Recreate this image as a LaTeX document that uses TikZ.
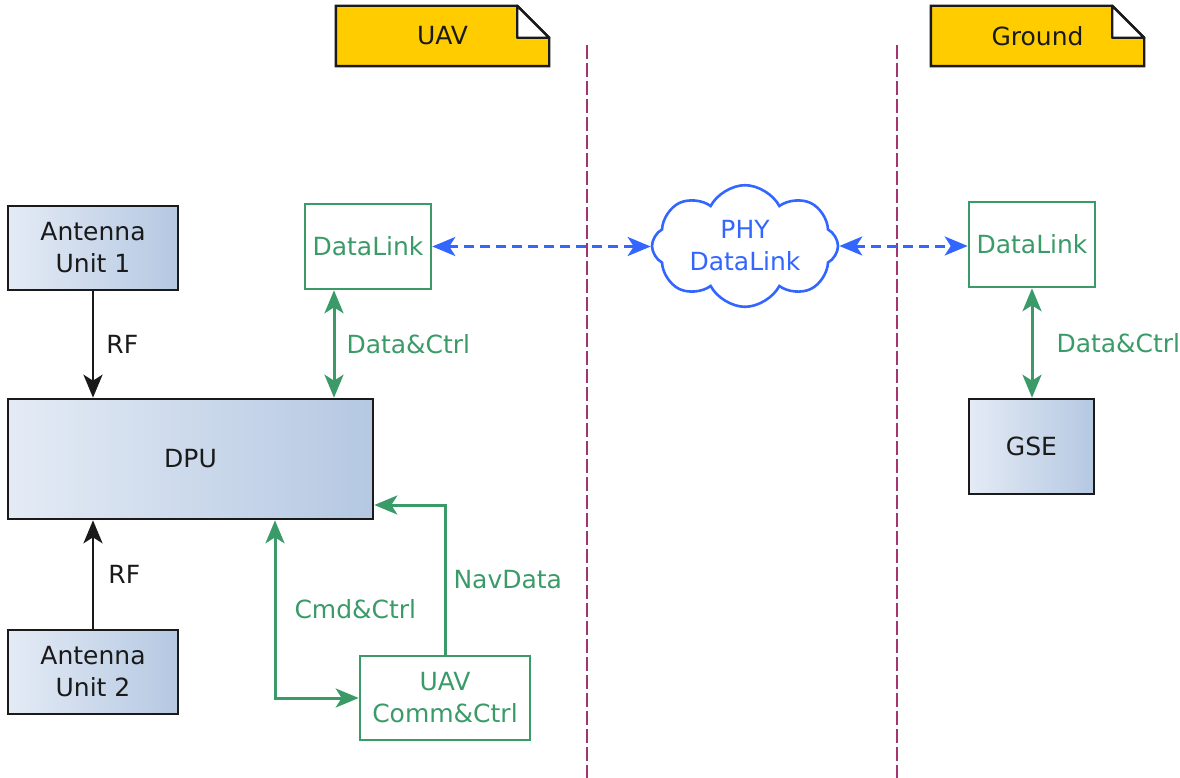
\documentclass[tikz,border=0pt]{standalone}
\usepackage{fontspec}
\setmainfont{DejaVu Sans}
\usetikzlibrary{arrows.meta,shapes.symbols,backgrounds,calc}

\definecolor{linkgreen}{HTML}{3A9B68}
\definecolor{phyblue}{HTML}{3366FF}
\definecolor{notefill}{HTML}{FFCC00}
\definecolor{lanecol}{HTML}{A3346F}
\definecolor{boxleft}{HTML}{E4EBF5}
\definecolor{boxright}{HTML}{B5C8E2}
\definecolor{inkdark}{HTML}{1A1A1A}

\tikzset{
  every node/.style={font=\fontsize{25}{32}\selectfont, align=center, inner sep=0pt},
  headend/.style={arrows={-Stealth[length=23pt,width=19pt,inset=6pt]}},
  headboth/.style={arrows={Stealth[length=23pt,width=19pt,inset=6pt]-Stealth[length=23pt,width=19pt,inset=6pt]}},
  hwbox/.style={draw=inkdark, line width=2.6pt, left color=boxleft, right color=boxright, text=inkdark},
  swbox/.style={draw=linkgreen, line width=2.6pt, fill=white, text=linkgreen},
  notetext/.style={minimum width=213pt, minimum height=60pt, text=inkdark},
  notebody/.style={draw=inkdark, line width=2.4pt, fill=notefill},
  lane/.style={draw=lanecol, line width=2.2pt, dash pattern=on 14pt off 4pt},
  hwflow/.style={draw=inkdark, line width=2.8pt, headend},
  ctlflow/.style={draw=linkgreen, line width=3pt, text=linkgreen},
  phyflow/.style={draw=phyblue, line width=3pt, dash pattern=on 10pt off 6pt, headboth},
  phycloud/.style={cloud, cloud puffs=8, cloud puff arc=125, aspect=1.7,
    draw=phyblue, line width=2.6pt, fill=white, text=phyblue,
    minimum width=186pt, minimum height=110pt}
}

\begin{document}
\begin{tikzpicture}[x=1pt, y=-1pt]
\useasboundingbox (0,0) rectangle (1180,778);

% lane separators
\draw[lane] (587,45) -- (587,778);
\draw[lane] (897,45) -- (897,778);

% domain notes
\node[notetext] (uav) at (442.5,36) {UAV};
\node[notetext] (ground) at (1037.5,36) {Ground};
\begin{scope}[on background layer]
  \foreach \n in {uav,ground}{
    \draw[notebody] (\n.south west) -- (\n.north west) -- ([xshift=-32pt]\n.north east)
      -- ([yshift=-32pt]\n.north east) -- (\n.south east) -- cycle;
    \draw[draw=inkdark, line width=2.4pt, fill=white, line join=round] ([xshift=-32pt]\n.north east)
      -- ([xshift=-32pt,yshift=-32pt]\n.north east) -- ([yshift=-32pt]\n.north east) -- cycle;
  }
\end{scope}

% airborne hardware
\node[hwbox, minimum width=170pt, minimum height=84pt] (ant1) at (93,248) {Antenna\\Unit 1};
\node[hwbox, minimum width=365pt, minimum height=120pt] (dpu) at (190.5,459) {DPU};
\node[hwbox, minimum width=170pt, minimum height=84pt] (ant2) at (93,672) {Antenna\\Unit 2};

% airborne software blocks
\node[swbox, minimum width=126pt, minimum height=85pt] (dl1) at (368,246.5) {DataLink};
\node[swbox, minimum width=170pt, minimum height=84pt] (comm) at (445,698) {UAV\\Comm\&Ctrl};

% physical link
\node[phycloud] (phy) at (745,246) {PHY\\DataLink};

% ground side
\node[swbox, minimum width=126pt, minimum height=85pt] (dl2) at (1032,244.5) {DataLink};
\node[hwbox, minimum width=125pt, minimum height=95pt] (gse) at (1031.5,446.5) {GSE};

% RF feeds
\draw[hwflow] (ant1.south) -- (ant1.south |- dpu.north)
  node[midway, right=12pt, text=inkdark] (rf1) {RF};
\draw[hwflow] (ant2.north) -- (ant2.north |- dpu.south)
  node[midway, right=14pt, text=inkdark] (rf2) {RF};

% data and control paths
\draw[ctlflow, headboth] ([xshift=-34pt]dl1.south) -- ([xshift=-34pt]dl1.south |- dpu.north)
  node[midway, right=11pt] (dc1) {Data\&Ctrl};
\draw[ctlflow, headboth] (dl2.south) -- (dl2.south |- gse.north)
  node[midway, right=23pt] (dc2) {Data\&Ctrl};
\draw[ctlflow, headboth] (comm.west) -| ([xshift=84.5pt]dpu.south)
  node[pos=0.75, right=18pt] (cc) {Cmd\&Ctrl};
\draw[ctlflow, headend] (comm.north) |- ([yshift=-46pt]dpu.east)
  node[pos=0.25, right=7pt] (nav) {NavData};

% radio links
\draw[phyflow] (dl1.east) -- (dl1.east -| phy.west);
\draw[phyflow] (phy.east) -- (phy.east -| dl2.west);
\end{tikzpicture}
\end{document}
